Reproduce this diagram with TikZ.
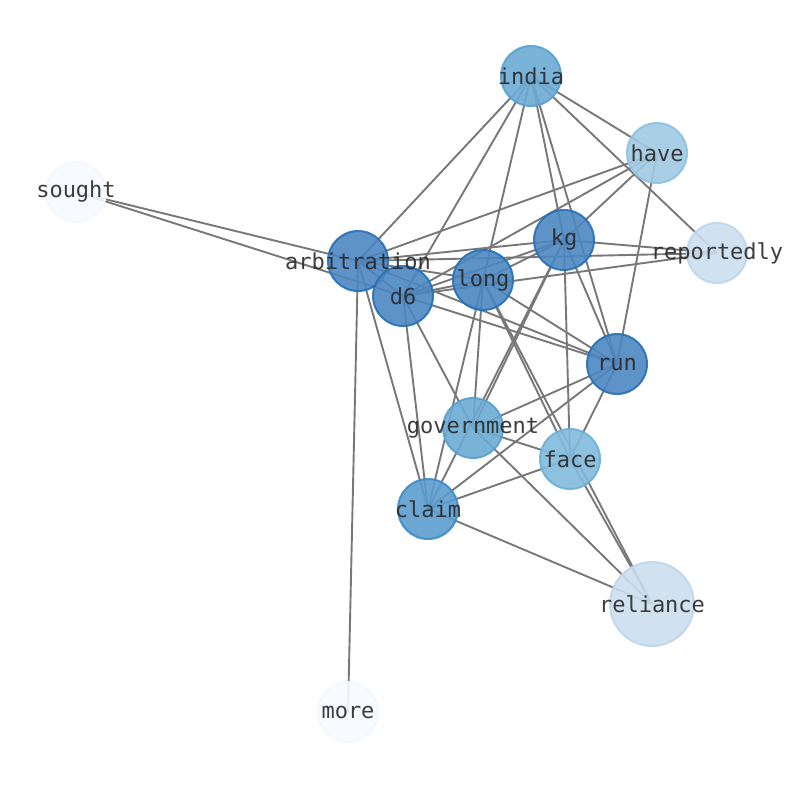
\documentclass[tikz,border=0pt]{standalone}
\usepackage{fontspec}
\setmonofont{DejaVu Sans Mono}
\definecolor{cA}{RGB}{76,135,193}
\definecolor{cAb}{RGB}{40,112,182}
\definecolor{cB}{RGB}{92,156,206}
\definecolor{cBb}{RGB}{62,140,198}
\definecolor{cC}{RGB}{108,171,212}
\definecolor{cCb}{RGB}{88,160,207}
\definecolor{cD}{RGB}{130,186,220}
\definecolor{cDb}{RGB}{110,176,216}
\definecolor{cE}{RGB}{160,202,227}
\definecolor{cEb}{RGB}{145,194,224}
\definecolor{cF}{RGB}{203,222,238}
\definecolor{cFb}{RGB}{190,214,235}
\definecolor{cG}{RGB}{246,250,255}
\definecolor{cGb}{RGB}{243,248,255}
\definecolor{edgec}{RGB}{120,120,120}
\definecolor{txt}{RGB}{40,40,40}
\tikzset{
  vtx/.style={circle, minimum size=60pt, inner sep=0pt, line width=2pt, fill opacity=0.9, draw opacity=0.9},
  lbl/.style={font=\ttfamily\fontsize{22pt}{24pt}\selectfont, text=txt, text opacity=0.9, inner sep=0pt},
  edg/.style={draw=edgec, line width=1.9pt}
}
\begin{document}
\begin{tikzpicture}[x=1pt,y=-1pt]
\useasboundingbox (0,0) rectangle (794,790);
% coordinates
\coordinate (india) at (531,76);
\coordinate (have) at (657,153);
\coordinate (sought) at (76,192);
\coordinate (kg) at (564,240);
\coordinate (reportedly) at (717,253);
\coordinate (arbitration) at (358,261);
\coordinate (long) at (483,280);
\coordinate (d6) at (403,296);
\coordinate (run) at (617,364);
\coordinate (government) at (473,428);
\coordinate (face) at (570,459);
\coordinate (claim) at (428,509);
\coordinate (reliance) at (652,604);
\coordinate (more) at (348,712);
% edges
\foreach \a/\b in {india/arbitration, india/d6, india/long, india/kg, india/run, india/have, india/reportedly,
  have/arbitration, have/d6, have/kg, have/run,
  kg/arbitration, kg/d6, kg/long, kg/reportedly, kg/run, kg/face, kg/government, kg/claim,
  arbitration/sought, d6/sought, arbitration/d6, arbitration/long, arbitration/reportedly, arbitration/run, arbitration/claim, arbitration/more,
  d6/long, d6/reportedly, d6/run, d6/claim, d6/government,
  long/run, long/government, long/claim, long/face, long/reliance,
  face/reliance, run/government, run/claim, run/face, government/face, government/reliance, claim/face, claim/reliance}
  \draw[edg] (\a) -- (\b);
% nodes
\node[vtx, fill=cC, draw=cCb] (nindia) at (india) {};
\node[vtx, fill=cE, draw=cEb] (nhave) at (have) {};
\node[vtx, fill=cG, draw=cGb] (nsought) at (sought) {};
\node[vtx, fill=cA, draw=cAb] (nkg) at (kg) {};
\node[vtx, fill=cF, draw=cFb] (nreportedly) at (reportedly) {};
\node[vtx, fill=cA, draw=cAb] (narbitration) at (arbitration) {};
\node[vtx, fill=cA, draw=cAb] (nlong) at (long) {};
\node[vtx, fill=cA, draw=cAb] (nd6) at (d6) {};
\node[vtx, fill=cA, draw=cAb] (nrun) at (run) {};
\node[vtx, fill=cC, draw=cCb] (ngovernment) at (government) {};
\node[vtx, fill=cD, draw=cDb] (nface) at (face) {};
\node[vtx, fill=cB, draw=cBb] (nclaim) at (claim) {};
\node[vtx, fill=cF, draw=cFb, minimum size=84pt] (nreliance) at (reliance) {};
\node[vtx, fill=cG, draw=cGb] (nmore) at (more) {};
% labels
\foreach \n in {india, have, sought, kg, reportedly, arbitration, long, d6, run, government, face, claim, reliance, more}
  \node[lbl] (l\n) at (\n) {\n};
\end{tikzpicture}
\end{document}
